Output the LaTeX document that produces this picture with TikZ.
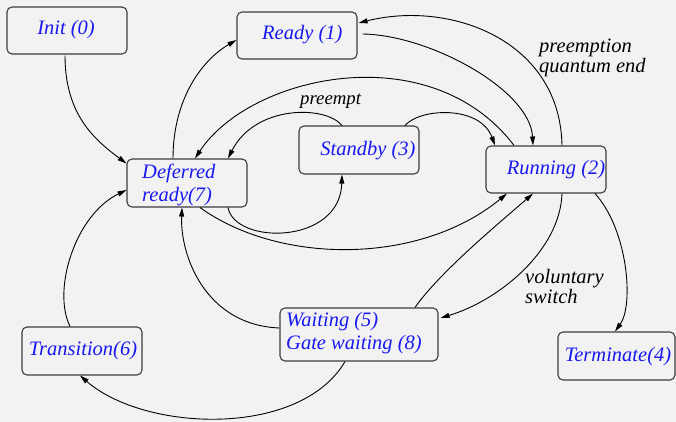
\documentclass[tikz,border=0pt]{standalone}
\usepackage{fontspec}
\setmainfont{Liberation Serif}
\usetikzlibrary{arrows.meta}
\definecolor{bggray}{RGB}{242,242,242}
\definecolor{stateblue}{RGB}{24,24,240}
\definecolor{boxline}{RGB}{60,60,60}
\begin{document}
\begin{tikzpicture}[x=1pt,y=-1pt,
  statebox/.style={draw=boxline, line width=1.1pt, rounded corners=5pt, inner sep=0pt, fill=bggray},
  stxt/.style={text=stateblue, inner sep=0pt, anchor=base, font=\fontsize{20.5}{23.5}\selectfont\itshape},
  ltxt/.style={text=black, inner sep=0pt, anchor=base west, font=\fontsize{20.5}{23.5}\selectfont\itshape},
  small/.style={font=\fontsize{18.8}{22}\selectfont\itshape},
  trans/.style={line width=0.9pt, -{Triangle[length=9pt,width=5pt]}}]

\useasboundingbox (0,0) rectangle (676,422);
\fill[bggray] (0,0) rectangle (676,422);

% state boxes
\node[statebox, minimum width=120pt, minimum height=47pt] (init)       at (67,30.5)   {};
\node[statebox, minimum width=120pt, minimum height=47pt] (ready)      at (297,35.5)  {};
\node[statebox, minimum width=120pt, minimum height=48pt] (standby)    at (359,150)   {};
\node[statebox, minimum width=120pt, minimum height=47pt] (running)    at (546,169.5) {};
\node[statebox, minimum width=120pt, minimum height=48pt] (deferred)   at (187,183)   {};
\node[statebox, minimum width=158pt, minimum height=53pt] (waiting)    at (359,334.5) {};
\node[statebox, minimum width=120pt, minimum height=48pt] (transition) at (82,351)    {};
\node[statebox, minimum width=117pt, minimum height=48pt] (terminate)  at (616.5,356) {};

% state names
\node[stxt] (initT)      at (66,35)    {Init (0)};
\node[stxt] (readyT)     at (302.3,39.5) {Ready (1)};
\node[stxt] (standbyT)   at (368,155)  {Standby (3)};
\node[stxt] (runningT)   at (556,174)  {Running (2)};
\node[stxt, anchor=base west] (deferredA) at (142,178)   {Deferred};
\node[stxt, anchor=base west] (deferredB) at (142,201.5) {ready(7)};
\node[stxt, anchor=base west] (waitingA)  at (286,326)   {Waiting (5)};
\node[stxt, anchor=base west] (waitingB)  at (286,349.5) {Gate waiting (8)};
\node[stxt] (transitionT) at (83,355.7) {Transition(6)};
\node[stxt] (terminateT)  at (618,361)  {Terminate(4)};

% transition labels
\node[ltxt, small] (lblPreempt) at (300,105) {preempt};
\node[ltxt] (lblPreemption) at (539,53)   {preemption};
\node[ltxt] (lblQuantum)    at (539,72.5) {quantum end};
\node[ltxt] (lblVoluntary)  at (525,283)  {voluntary};
\node[ltxt] (lblSwitch)     at (525,303)  {switch};

% transitions
\draw[trans] ([xshift=-2pt,yshift=-1pt]init.south)
  .. controls (65,115) and (95,140) .. ([yshift=-5pt]deferred.north west);
\draw[trans] ([xshift=-14pt]deferred.north)
  .. controls (173,99) and (202,60) .. ([yshift=-4.5pt]ready.west);
\draw[trans] ([xshift=-32pt]running.north)
  .. controls (430,35) and (250,75) .. ([xshift=8pt]deferred.north);
\draw[trans] ([xshift=-17pt]standby.north)
  .. controls (325,105) and (255,105) .. ([xshift=41pt]deferred.north);
\draw[trans] ([xshift=46pt]standby.north)
  .. controls (420,108) and (480,105) .. ([xshift=-51pt]running.north);
\draw[trans] ([xshift=16pt]running.north)
  .. controls (560,40) and (450,0) .. ([xshift=1pt,yshift=12.5pt]ready.east);
\draw[trans] ([xshift=5pt,yshift=1.5pt]ready.east)
  .. controls (430,35) and (530,90) .. ([xshift=-13pt]running.north);
\draw[trans] ([xshift=41pt]deferred.south)
  .. controls (235,245) and (340,245) .. ([xshift=-17pt]standby.south);
\draw[trans] ([xshift=13pt]deferred.south)
  .. controls (280,265) and (420,265) .. ([xshift=-39pt]running.south);
\draw[trans] ([xshift=56pt]waiting.north)
  .. controls (440,272) and (498,224) .. ([xshift=-13pt]running.south);
\draw[trans] ([xshift=16pt]running.south)
  .. controls (560,250) and (500,300) .. ([xshift=2pt,yshift=16.5pt]waiting.east);
\draw[trans] ([xshift=49pt]running.south)
  .. controls (628,230) and (634,305) .. ([xshift=-1.5pt]terminate.north);
\draw[trans] ([yshift=6.5pt]waiting.west)
  .. controls (205,325) and (180,255) .. ([xshift=-5pt]deferred.south);
\draw[trans] ([xshift=-12pt]transition.north)
  .. controls (52,290) and (75,215) .. ([yshift=-7pt]deferred.west);
\draw[trans] ([xshift=-14pt]waiting.south)
  .. controls (300,438) and (145,432) .. ([xshift=-2pt]transition.south);
\end{tikzpicture}
\end{document}
